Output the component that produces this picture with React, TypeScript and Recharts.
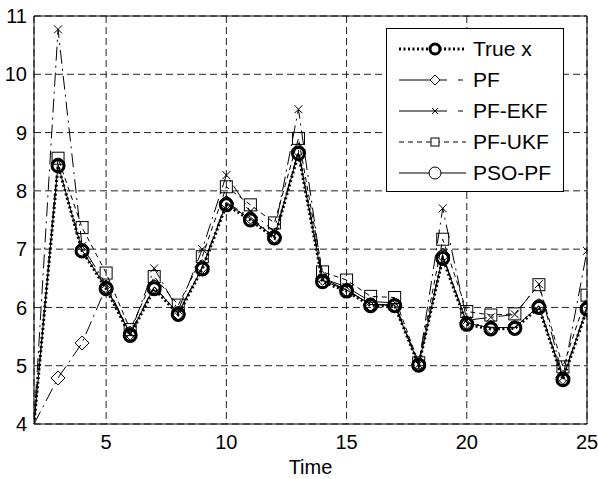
import React from 'react';
import {
  LineChart,
  Line,
  XAxis,
  YAxis,
  CartesianGrid,
  ReferenceLine,
} from 'recharts';

const TIME = [2, 3, 4, 5, 6, 7, 8, 9, 10, 11, 12, 13, 14, 15, 16, 17, 18, 19, 20, 21, 22, 23, 24, 25];
const TRUE_X = [4, 8.43, 6.97, 6.32, 5.52, 6.32, 5.88, 6.66, 7.76, 7.5, 7.19, 8.64, 6.44, 6.28, 6.03, 6.03, 5.01, 6.84, 5.71, 5.63, 5.64, 6.0, 4.76, 5.97];
const PF = [4, 4.79, 5.39, 6.35, 5.56, 6.36, 5.9, 6.7, 7.8, 7.55, 7.22, 8.7, 6.5, 6.3, 6.05, 6.04, 5.02, 6.9, 5.74, 5.66, 5.65, 6.03, 4.8, 6.0];
const PF_EKF = [4, 10.77, 7.05, 6.4, 5.55, 6.67, 5.95, 7.0, 8.27, 7.65, 7.3, 9.4, 6.5, 6.35, 6.1, 6.08, 5.02, 7.7, 5.78, 5.83, 5.88, 6.4, 4.8, 6.97];
const PF_UKF = [4, 8.56, 7.37, 6.59, 5.62, 6.53, 6.04, 6.87, 8.07, 7.76, 7.45, 8.9, 6.61, 6.47, 6.19, 6.17, 5.05, 7.17, 5.93, 5.87, 5.89, 6.39, 4.98, 6.21];
const PSO_PF = [4, 8.45, 6.98, 6.34, 5.54, 6.35, 5.9, 6.68, 7.78, 7.52, 7.21, 8.66, 6.46, 6.3, 6.05, 6.04, 5.02, 6.87, 5.73, 5.65, 5.66, 6.02, 4.78, 5.99];

const X_TICKS = [5, 10, 15, 20, 25];
const Y_TICKS = [4, 5, 6, 7, 8, 9, 10, 11];

const FONT = 'Arial, "Liberation Sans", sans-serif';

const data = TIME.map((t, i) => ({
  t,
  trueX: TRUE_X[i],
  pf: PF[i],
  ekf: PF_EKF[i],
  ukf: PF_UKF[i],
  pso: PSO_PF[i],
}));

// marker shapes (hollow, like matlab). first point sits in the corner, no marker there
// eslint-disable-next-line @typescript-eslint/no-explicit-any
const bigCircle = (p: any) =>
  p.index === 0 ? <g key="tc-0" /> : (
    <circle key={`tc-${p.index}`} cx={p.cx} cy={p.cy} r={6} fill="none" stroke="#000" strokeWidth={3} />
  );
// eslint-disable-next-line @typescript-eslint/no-explicit-any
const thinCircle = (p: any) =>
  p.index === 0 ? <g key="pc-0" /> : (
    <circle key={`pc-${p.index}`} cx={p.cx} cy={p.cy} r={6.5} fill="none" stroke="#000" strokeWidth={1} />
  );
// eslint-disable-next-line @typescript-eslint/no-explicit-any
const diamond = (p: any) =>
  p.index === 0 ? <g key="dm-0" /> : (
    <path
      key={`dm-${p.index}`}
      d={`M${p.cx},${p.cy - 7}L${p.cx + 7},${p.cy}L${p.cx},${p.cy + 7}L${p.cx - 7},${p.cy}Z`}
      fill="none"
      stroke="#000"
      strokeWidth={1}
    />
  );
// eslint-disable-next-line @typescript-eslint/no-explicit-any
const cross = (p: any) =>
  p.index === 0 ? <g key="cx-0" /> : (
    <path
      key={`cx-${p.index}`}
      d={`M${p.cx - 4},${p.cy - 4}L${p.cx + 4},${p.cy + 4}M${p.cx - 4},${p.cy + 4}L${p.cx + 4},${p.cy - 4}`}
      stroke="#000"
      strokeWidth={1}
    />
  );
// eslint-disable-next-line @typescript-eslint/no-explicit-any
const square = (p: any) =>
  p.index === 0 ? <g key="sq-0" /> : (
    <rect key={`sq-${p.index}`} x={p.cx - 6} y={p.cy - 6} width={12} height={12} fill="none" stroke="#000" strokeWidth={1} />
  );

const LEGEND_ROWS = [
  { name: 'True x', dash: '2 2.5', width: 3, marker: 'bigCircle' },
  { name: 'PF', dash: '48 11 5 20', width: 1, marker: 'diamond' },
  { name: 'PF-EKF', dash: '48 11 5 20', width: 1, marker: 'cross' },
  { name: 'PF-UKF', dash: '5 4', width: 1, marker: 'square' },
  { name: 'PSO-PF', dash: undefined, width: 1, marker: 'circle' },
];

function LegendMarker({ kind }: { kind: string }) {
  const cx = 38;
  const cy = 10;
  if (kind === 'bigCircle') return <circle cx={cx} cy={cy} r={5} fill="#fff" stroke="#000" strokeWidth={3} />;
  if (kind === 'diamond')
    return <path d={`M${cx},${cy - 5}L${cx + 5},${cy}L${cx},${cy + 5}L${cx - 5},${cy}Z`} fill="#fff" stroke="#000" />;
  if (kind === 'cross')
    return <path d={`M${cx - 3},${cy - 3}L${cx + 3},${cy + 3}M${cx - 3},${cy + 3}L${cx + 3},${cy - 3}`} stroke="#000" />;
  if (kind === 'square') return <rect x={cx - 4} y={cy - 4} width={8} height={8} fill="#fff" stroke="#000" />;
  return <circle cx={cx} cy={cy} r={6} fill="#fff" stroke="#000" />;
}

function MatlabLegend() {
  return (
    <div
      style={{
        position: 'absolute',
        left: 386,
        top: 28,
        width: 178,
        height: 164,
        border: '1px solid #000',
        background: '#fff',
        boxSizing: 'border-box',
        paddingTop: 4,
        fontFamily: FONT,
      }}
    >
      {LEGEND_ROWS.map((row) => (
        <div key={row.name} style={{ display: 'flex', alignItems: 'center', height: 31 }}>
          <svg width={76} height={20} style={{ marginLeft: 10 }}>
            <line x1={2} y1={10} x2={69} y2={10} stroke="#000" strokeWidth={row.width} strokeDasharray={row.dash} />
            <LegendMarker kind={row.marker} />
          </svg>
          <span style={{ fontSize: 21, color: '#000', lineHeight: '20px' }}>{row.name}</span>
        </div>
      ))}
    </div>
  );
}

export default function App() {
  return (
    <div style={{ position: 'absolute', left: 0, top: 0, width: 598, height: 479, background: '#fff' }}>
      <LineChart width={598} height={479} data={data} margin={{ top: 16, right: 11, left: 0, bottom: 0 }}>
        <CartesianGrid strokeDasharray="7 4" stroke="#222" />
        <XAxis
          dataKey="t"
          type="number"
          domain={[2, 25]}
          ticks={X_TICKS}
          allowDataOverflow
          height={55}
          stroke="#000"
          tickSize={0}
          tickMargin={11}
          tick={{ fill: '#000', fontSize: 20, fontFamily: FONT }}
          label={{ value: 'Time', position: 'insideBottom', offset: 5, fill: '#000', fontSize: 20, fontFamily: FONT }}
        />
        <YAxis
          type="number"
          domain={[4, 11]}
          ticks={Y_TICKS}
          allowDataOverflow
          width={34}
          stroke="#000"
          tickSize={0}
          tickMargin={7}
          tick={{ fill: '#000', fontSize: 20, fontFamily: FONT }}
        />
        <ReferenceLine y={11} stroke="#000" />
        <ReferenceLine x={25} stroke="#000" />
        <Line
          dataKey="trueX"
          stroke="#000"
          strokeWidth={3}
          strokeDasharray="2 2.5"
          dot={bigCircle}
          isAnimationActive={false}
        />
        <Line dataKey="pf" stroke="#000" strokeWidth={1} strokeDasharray="14 5 2 5" dot={diamond} isAnimationActive={false} />
        <Line dataKey="ekf" stroke="#000" strokeWidth={1} strokeDasharray="14 5 2 5" dot={cross} isAnimationActive={false} />
        <Line dataKey="ukf" stroke="#000" strokeWidth={1} strokeDasharray="5 4" dot={square} isAnimationActive={false} />
        <Line dataKey="pso" stroke="#000" strokeWidth={1} dot={thinCircle} isAnimationActive={false} />
      </LineChart>
      <MatlabLegend />
    </div>
  );
}
